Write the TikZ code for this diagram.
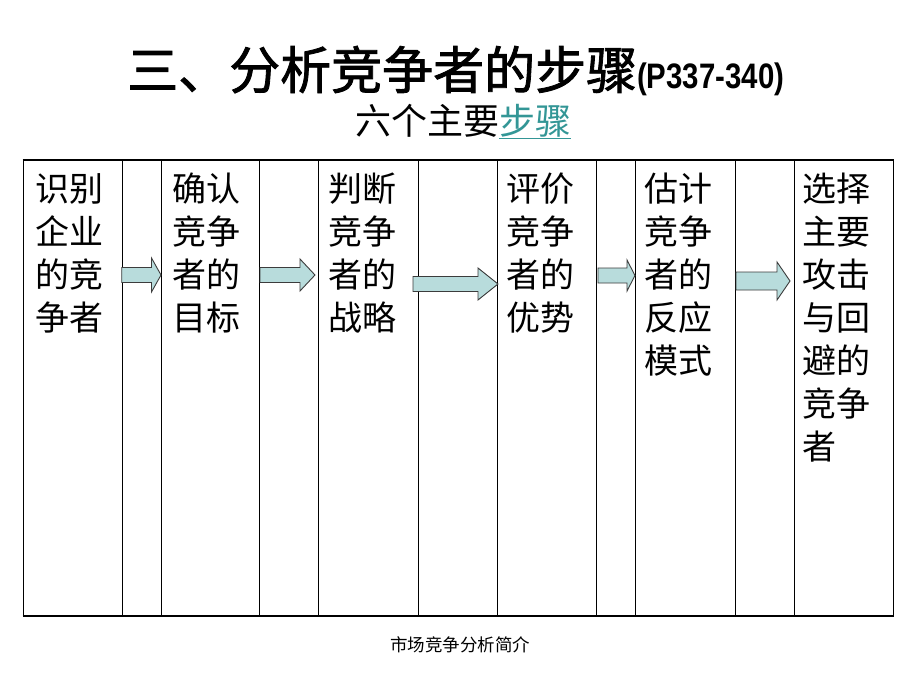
\documentclass[tikz,border=0pt]{standalone}
\usepackage{fontspec}
\newfontfamily\cjk{Noto Sans CJK SC}
\newfontfamily\cjkfb{Noto Sans CJK SC}[FakeBold=1.6]
\newfontfamily\arialb{Liberation Sans}
\definecolor{arrowfill}{RGB}{184,220,220}
\definecolor{arrowline}{RGB}{60,60,60}
\definecolor{linkc}{RGB}{51,150,150}
\tikzset{
  cell/.style={draw=black, line width=1.2pt, anchor=north west, minimum height=455pt, inner sep=0pt},
  celltext/.style={anchor=north west, inner sep=0pt, align=left, font=\cjk\fontsize{34}{43}\selectfont},
  barrow/.style={draw=arrowline, fill=arrowfill, line width=0.9pt, line join=miter}
}
% #1 name, #2 tail x, #3 tip x, #4 y, #5 shaft half, #6 head half, #7 head length
\newcommand\blockarrow[7]{%
  \coordinate (#1-tail) at (#2,#4);
  \coordinate (#1-tip) at (#3,#4);
  \draw[barrow] ([yshift=#5pt]#1-tail) -- ([xshift=-#7pt,yshift=#5pt]#1-tip)
    -- ([xshift=-#7pt,yshift=#6pt]#1-tip) -- (#1-tip)
    -- ([xshift=-#7pt,yshift=-#6pt]#1-tip) -- ([xshift=-#7pt,yshift=-#5pt]#1-tip)
    -- ([yshift=-#5pt]#1-tail) -- cycle;}
\begin{document}
\begin{tikzpicture}[x=1pt,y=-1pt]
\useasboundingbox (0,0) rectangle (920,690);
\fill[white] (0,0) rectangle (920,690);
% title
\node[anchor=base west, inner sep=0pt] (title) at (127,89)
  {{\cjkfb\fontsize{51}{51}\selectfont 三、分析竞争者的步骤}{\arialb\bfseries\fontsize{30}{30}\selectfont\scalebox{0.98}[1.18]{(P337-340)}}};
\node[anchor=base, inner sep=0pt, font=\cjk\fontsize{36}{36}\selectfont] (sub) at (463,134)
  {六个主要\textcolor{linkc}{\underline{步骤}}};
% table
\node[cell, minimum width=99.3pt] (c1) at (22.7,160) {};
\node[cell, minimum width=98pt]   (c2) at (161,160) {};
\node[cell, minimum width=100pt]  (c3) at (318,160) {};
\node[cell, minimum width=99pt]   (c4) at (497,160) {};
\node[cell, minimum width=100pt]  (c5) at (635,160) {};
\node[cell, minimum width=99pt]   (c6) at (794,160) {};
\draw[line width=1.2pt] (c1.north west) -- (c6.north east);
\draw[line width=2pt] (c1.south west) -- (c6.south east);
% texts
\node[celltext] (t1) at (35,173)  {识别\\企业\\的竞\\争者};
\node[celltext] (t2) at (172,173) {确认\\竞争\\者的\\目标};
\node[celltext] (t3) at (328,173) {判断\\竞争\\者的\\战略};
\node[celltext] (t4) at (506,173) {评价\\竞争\\者的\\优势};
\node[celltext] (t5) at (644,173) {估计\\竞争\\者的\\反应\\模式};
\node[celltext] (t6) at (802,173) {选择\\主要\\攻击\\与回\\避的\\竞争\\者};
% arrows
\blockarrow{a1}{121.7}{161}{275}{7.5}{17}{9.5}
\blockarrow{a2}{260}{315}{275}{7.5}{16}{15}
\blockarrow{a3}{413}{498}{284}{7.5}{16}{20}
\blockarrow{a4}{598}{635}{275.5}{7.5}{15.5}{8}
\blockarrow{a5}{736}{790}{281}{9}{19}{13}
% footer
\node[anchor=center, inner sep=0pt, font=\cjk\fontsize{17.5}{17.5}\selectfont] (foot) at (460,645) {市场竞争分析简介};
\end{tikzpicture}
\end{document}
